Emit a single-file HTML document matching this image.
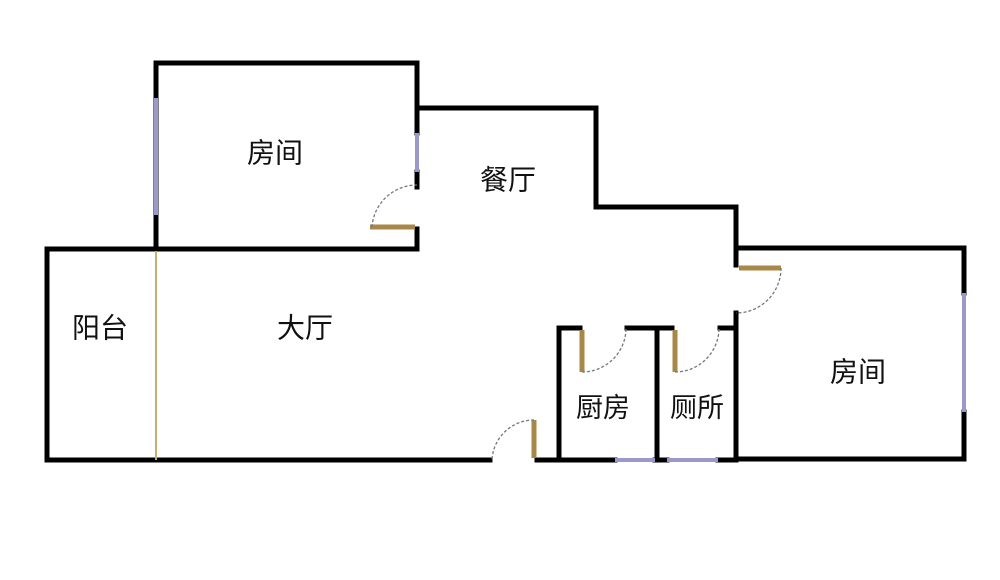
<!DOCTYPE html>
<html><head><meta charset="utf-8"><style>
html,body{margin:0;padding:0;background:#fff;}
svg{display:block;}
text{font-family:"Liberation Sans","Noto Sans CJK SC",sans-serif;font-size:28px;fill:#111;text-anchor:middle;dominant-baseline:central;}
</style></head><body>
<svg width="1000" height="580" viewBox="0 0 1000 580" xmlns="http://www.w3.org/2000/svg">
<rect width="1000" height="580" fill="#fff"/>
<g stroke="#000" stroke-width="5" fill="none" stroke-linecap="square">
<!-- upper left room -->
<polyline points="156,249 156,63 417,63 417,133"/>
<line x1="417" y1="172" x2="417" y2="187"/>
<line x1="417" y1="229" x2="417" y2="249"/>
<!-- dining -->
<polyline points="417,108 596,108 596,207 736,207 736,265"/>
<!-- right room -->
<polyline points="736,248 964,248 964,293"/>
<polyline points="964,412 964,459 736,459 736,313"/>
<!-- lower left -->
<polyline points="417,249 47,249 47,460 490,460"/>
<line x1="537" y1="460" x2="615" y2="460"/>
<line x1="655" y1="460" x2="667" y2="460"/>
<line x1="718" y1="460" x2="736" y2="460"/>
<!-- kitchen/toilet -->
<polyline points="559,460 559,328 580,328"/>
<line x1="627" y1="328" x2="672" y2="328"/>
<line x1="657" y1="328" x2="657" y2="460"/>
<line x1="720" y1="328" x2="736" y2="328"/>
</g>
<!-- windows -->
<g stroke="#9999cc" stroke-width="4">
<line x1="156" y1="98" x2="156" y2="215"/>
<line x1="417" y1="133" x2="417" y2="172"/>
<line x1="964" y1="293" x2="964" y2="412"/>
<line x1="615" y1="460" x2="655" y2="460"/>
<line x1="667" y1="460" x2="718" y2="460"/>
</g>
<line x1="156" y1="251" x2="156" y2="460" stroke="#c8b070" stroke-width="2"/>
<!-- door leaves -->
<g stroke="#a88848" stroke-width="5">
<line x1="370" y1="227" x2="415" y2="227"/>
<line x1="739" y1="268" x2="781" y2="268"/>
<line x1="582" y1="330" x2="582" y2="372"/>
<line x1="675" y1="330" x2="675" y2="372"/>
<line x1="534" y1="420" x2="534" y2="458"/>
</g>
<!-- arcs -->
<g stroke="#777" stroke-width="1.3" fill="none" stroke-dasharray="3,2">
<path d="M372,227 A45,45 0 0 1 417,185"/>
<path d="M781,268 A45,45 0 0 1 736,313"/>
<path d="M582,372 A44,44 0 0 0 626,328"/>
<path d="M675,372 A44,44 0 0 0 719,328"/>
<path d="M534,420 A42,42 0 0 0 492,460"/>
</g>
<text x="275" y="153">房间</text>
<text x="508" y="180">餐厅</text>
<text x="100" y="328">阳台</text>
<text x="305" y="328">大厅</text>
<text x="603" y="408" style="font-size:27px">厨房</text>
<text x="697" y="408" style="font-size:27px">厕所</text>
<text x="858" y="372">房间</text>
</svg>
</body></html>
